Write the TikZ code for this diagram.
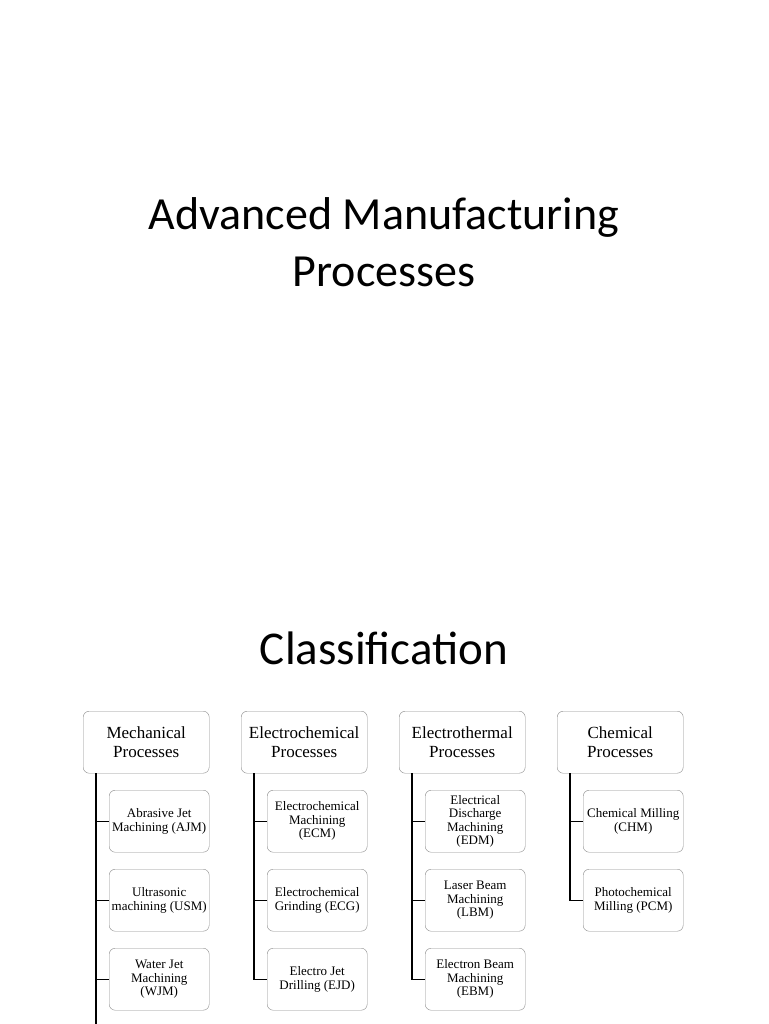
\documentclass[tikz,border=0pt]{standalone}
\usepackage{fontspec}
\setmainfont{Liberation Serif}
\newfontfamily\carlitofont{Carlito}
\begin{document}
\begin{tikzpicture}[x=1pt,y=-1pt,
 par/.style={draw=black!45,rounded corners=6pt,minimum width=126pt,minimum height=62pt,align=center,font=\fontsize{17}{19}\selectfont,inner sep=1pt},
 kid/.style={draw=black!45,rounded corners=6pt,minimum width=100pt,minimum height=62pt,align=center,font=\fontsize{13}{13.5}\selectfont,inner sep=1pt},
 ln/.style={draw=black,line width=1.1pt}]
\useasboundingbox (0,0) rectangle (768,1024);
\fill[white] (0,0) rectangle (768,1024);
\node[font=\carlitofont\fontsize{46}{57}\selectfont,align=center] (t) at (384,242) {Advanced Manufacturing\\Processes};
\node[font=\carlitofont\fontsize{47}{50}\selectfont] (c) at (384,648) {Classification};
\foreach \n/\x/\txt in {m/83/{Mechanical\\Processes},e/241/{Electrochemical\\Processes},t2/399/{Electrothermal\\Processes},c2/557/{Chemical\\Processes}}{
 \node[par,anchor=north west] (\n) at (\x,711) {\txt};
}
\node[kid,anchor=north west] (m1) at (109,790) {Abrasive Jet\\Machining (AJM)};
\node[kid,anchor=north west] (m2) at (109,869) {Ultrasonic\\machining (USM)};
\node[kid,anchor=north west] (m3) at (109,948) {Water Jet\\Machining\\(WJM)};
\node[kid,anchor=north west] (e1) at (267,790) {Electrochemical\\Machining\\(ECM)};
\node[kid,anchor=north west] (e2) at (267,869) {Electrochemical\\Grinding (ECG)};
\node[kid,anchor=north west] (e3) at (267,948) {Electro Jet\\Drilling (EJD)};
\node[kid,anchor=north west] (t1) at (425,790) {Electrical\\Discharge\\Machining\\(EDM)};
\node[kid,anchor=north west] (t3) at (425,869) {Laser Beam\\Machining\\(LBM)};
\node[kid,anchor=north west] (t4) at (425,948) {Electron Beam\\Machining\\(EBM)};
\node[kid,anchor=north west] (c1) at (583,790) {Chemical Milling\\(CHM)};
\node[kid,anchor=north west] (c3) at (583,869) {Photochemical\\Milling (PCM)};
\coordinate (mend) at (96,1024);
\draw[ln] (m.south west) ++(13,0) coordinate (ma) -- (mend);
\foreach \k in {m1,m2,m3}{\draw[ln] (\k.west) -- (ma |- \k.west);}
\draw[ln] (e.south west) ++(13,0) coordinate (ea) -- (ea |- e3.west) -- (e3.west);
\foreach \k in {e1,e2}{\draw[ln] (\k.west) -- (ea |- \k.west);}
\draw[ln] (t2.south west) ++(13,0) coordinate (ta) -- (ta |- t4.west) -- (t4.west);
\foreach \k in {t1,t3}{\draw[ln] (\k.west) -- (ta |- \k.west);}
\draw[ln] (c2.south west) ++(13,0) coordinate (ca) -- (ca |- c3.west) -- (c3.west);
\draw[ln] (c1.west) -- (ca |- c1.west);
\end{tikzpicture}
\end{document}
